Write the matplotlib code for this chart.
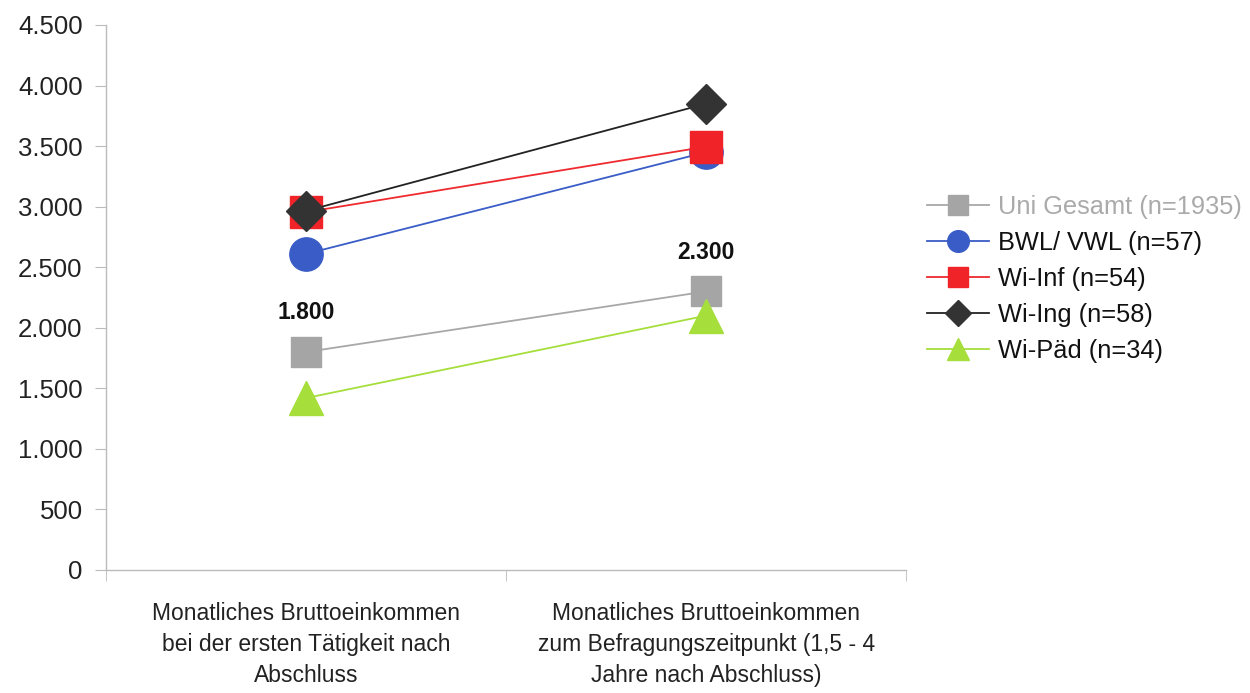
import matplotlib.pyplot as plt
import matplotlib.ticker as mticker

plt.rcParams['font.family'] = ['Liberation Sans', 'DejaVu Sans']

categories = [
    'Monatliches Bruttoeinkommen\nbei der ersten Tätigkeit nach\nAbschluss',
    'Monatliches Bruttoeinkommen\nzum Befragungszeitpunkt (1,5 - 4\nJahre nach Abschluss)',
]
series_names = ['Uni Gesamt (n=1935)', 'BWL/ VWL (n=57)', 'Wi-Inf (n=54)',
                'Wi-Ing (n=58)', 'Wi-Päd (n=34)']
uni_gesamt = [1800, 2300]
bwl_vwl = [2610, 3450]
wi_inf = [2955, 3495]
wi_ing = [2965, 3850]
wi_paed = [1420, 2100]
y_ticks = [0, 500, 1000, 1500, 2000, 2500, 3000, 3500, 4000, 4500]

series = [uni_gesamt, bwl_vwl, wi_inf, wi_ing, wi_paed]
styles = [
    ('#A5A5A5', '#A8A8A8', 's', 22),
    ('#3A5CC6', '#3A5CC6', 'o', 24),
    ('#F02328', '#EE2A2E', 's', 23),
    ('#333333', '#222222', 'D', 20),
    ('#A6DE3C', '#A6DE3C', '^', 25),
]

fig = plt.figure(figsize=(12.5, 6.93), dpi=100)
ax = fig.add_axes([0.085, 0.1775, 0.64, 0.7865])

x = [0, 1]
for vals, name, (mc, lc, mk, ms) in zip(series, series_names, styles):
    ax.plot(x, vals, color=lc, lw=1.3, marker=mk, markersize=ms,
            markerfacecolor=mc, markeredgecolor=mc, label=name)

# value labels for Uni Gesamt
for xi, v in zip(x, uni_gesamt):
    ax.annotate(f'{v:,}'.replace(',', '.'), (xi, v), xytext=(0, 20),
                textcoords='offset points', ha='center', va='bottom',
                fontsize=16.5, fontweight='bold', color='#111111')

ax.set_xlim(-0.5, 1.5)
ax.set_ylim(0, 4500)
ax.set_yticks(y_ticks)
ax.yaxis.set_major_formatter(mticker.FuncFormatter(
    lambda v, p: f'{int(v):,}'.replace(',', '.')))
ax.set_xticks(x)
ax.set_xticklabels(categories, linespacing=1.45)
ax.set_xticks([-0.5, 0.5, 1.5], minor=True)
ax.tick_params(axis='x', which='major', length=0, pad=23, labelsize=16.5,
               colors='#222222')
ax.tick_params(axis='x', which='minor', length=8, color='#BBBBBB')
ax.tick_params(axis='y', length=8, color='#BBBBBB', labelsize=18.5,
               labelcolor='#222222', pad=9)

for s in ['top', 'right']:
    ax.spines[s].set_visible(False)
for s in ['left', 'bottom']:
    ax.spines[s].set_color('#BBBBBB')
    ax.spines[s].set_linewidth(1.0)

leg = ax.legend(loc='upper left', bbox_to_anchor=(1.0, 0.725), frameon=False,
                fontsize=18.3, handlelength=2.45, markerscale=0.65,
                labelspacing=0.47, handletextpad=0.35, borderaxespad=0.4)
leg.get_texts()[0].set_color('#AAAAAA')
for t in leg.get_texts()[1:]:
    t.set_color('#111111')

fig.savefig('out.png', dpi=100)
